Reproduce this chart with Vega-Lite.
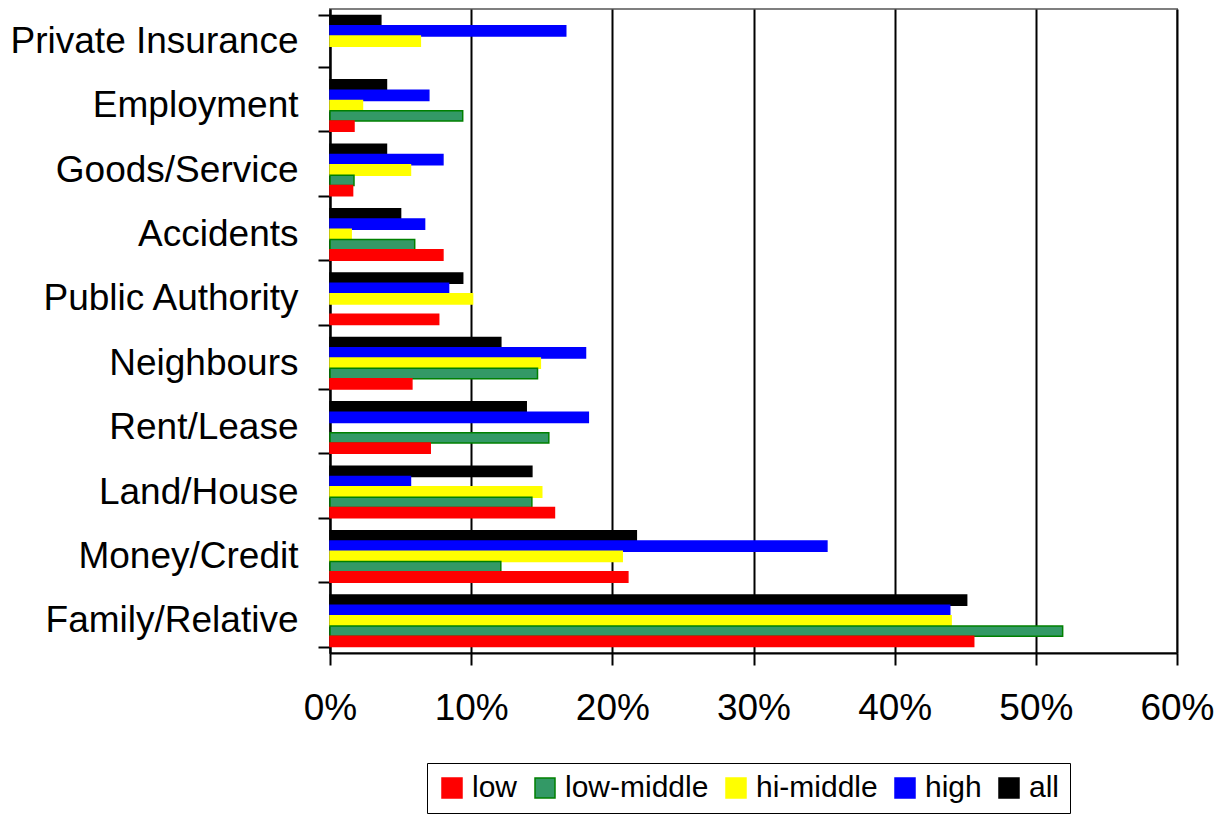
{
  "$schema": "https://vega.github.io/schema/vega-lite/v6.json",
  "width": 847,
  "height": 644,
  "autosize": {"type": "none"},
  "padding": {"left": 330, "top": 9, "right": 51, "bottom": 162},
  "background": "white",
  "config": {
    "font": "Liberation Sans",
    "view": {"stroke": "#7f7f7f", "strokeWidth": 2}
  },
  "data": {
    "values": [
      {"cat": "Private Insurance", "group": "all", "pct": 3.6},
      {"cat": "Private Insurance", "group": "high", "pct": 16.7},
      {"cat": "Private Insurance", "group": "hi-middle", "pct": 6.4},
      {"cat": "Employment", "group": "all", "pct": 4.0},
      {"cat": "Employment", "group": "high", "pct": 7.0},
      {"cat": "Employment", "group": "hi-middle", "pct": 2.3},
      {"cat": "Employment", "group": "low-middle", "pct": 9.4},
      {"cat": "Employment", "group": "low", "pct": 1.7},
      {"cat": "Goods/Service", "group": "all", "pct": 4.0},
      {"cat": "Goods/Service", "group": "high", "pct": 8.0},
      {"cat": "Goods/Service", "group": "hi-middle", "pct": 5.7},
      {"cat": "Goods/Service", "group": "low-middle", "pct": 1.7},
      {"cat": "Goods/Service", "group": "low", "pct": 1.6},
      {"cat": "Accidents", "group": "all", "pct": 5.0},
      {"cat": "Accidents", "group": "high", "pct": 6.7},
      {"cat": "Accidents", "group": "hi-middle", "pct": 1.5},
      {"cat": "Accidents", "group": "low-middle", "pct": 6.0},
      {"cat": "Accidents", "group": "low", "pct": 8.0},
      {"cat": "Public Authority", "group": "all", "pct": 9.4},
      {"cat": "Public Authority", "group": "high", "pct": 8.4},
      {"cat": "Public Authority", "group": "hi-middle", "pct": 10.1},
      {"cat": "Public Authority", "group": "low", "pct": 7.7},
      {"cat": "Neighbours", "group": "all", "pct": 12.1},
      {"cat": "Neighbours", "group": "high", "pct": 18.1},
      {"cat": "Neighbours", "group": "hi-middle", "pct": 14.9},
      {"cat": "Neighbours", "group": "low-middle", "pct": 14.7},
      {"cat": "Neighbours", "group": "low", "pct": 5.8},
      {"cat": "Rent/Lease", "group": "all", "pct": 13.9},
      {"cat": "Rent/Lease", "group": "high", "pct": 18.3},
      {"cat": "Rent/Lease", "group": "low-middle", "pct": 15.5},
      {"cat": "Rent/Lease", "group": "low", "pct": 7.1},
      {"cat": "Land/House", "group": "all", "pct": 14.3},
      {"cat": "Land/House", "group": "high", "pct": 5.7},
      {"cat": "Land/House", "group": "hi-middle", "pct": 15.0},
      {"cat": "Land/House", "group": "low-middle", "pct": 14.3},
      {"cat": "Land/House", "group": "low", "pct": 15.9},
      {"cat": "Money/Credit", "group": "all", "pct": 21.7},
      {"cat": "Money/Credit", "group": "high", "pct": 35.2},
      {"cat": "Money/Credit", "group": "hi-middle", "pct": 20.7},
      {"cat": "Money/Credit", "group": "low-middle", "pct": 12.1},
      {"cat": "Money/Credit", "group": "low", "pct": 21.1},
      {"cat": "Family/Relative", "group": "all", "pct": 45.1},
      {"cat": "Family/Relative", "group": "high", "pct": 43.9},
      {"cat": "Family/Relative", "group": "hi-middle", "pct": 44.0},
      {"cat": "Family/Relative", "group": "low-middle", "pct": 51.9},
      {"cat": "Family/Relative", "group": "low", "pct": 45.6}
    ]
  },
  "mark": {"type": "bar", "strokeWidth": 1.5},
  "encoding": {
    "y": {
      "field": "cat",
      "type": "nominal",
      "sort": ["Private Insurance", "Employment", "Goods/Service", "Accidents", "Public Authority", "Neighbours", "Rent/Lease", "Land/House", "Money/Credit", "Family/Relative"],
      "scale": {"paddingInner": 0.2, "paddingOuter": 0.1},
      "axis": {
        "title": null,
        "labelFontSize": 37,
        "labelColor": "black",
        "labelPadding": 20,
        "labelLimit": 400,
        "tickBand": "extent",
        "tickSize": 12,
        "tickColor": "black",
        "tickWidth": 2,
        "domainColor": "black",
        "domainWidth": 2,
        "grid": false
      }
    },
    "yOffset": {
      "field": "group",
      "type": "nominal",
      "sort": ["all", "high", "hi-middle", "low-middle", "low"],
      "scale": {"paddingInner": 0, "paddingOuter": 0}
    },
    "x": {
      "field": "pct",
      "type": "quantitative",
      "scale": {"domain": [0, 60], "nice": false},
      "axis": {
        "title": null,
        "values": [0, 10, 20, 30, 40, 50, 60],
        "labelExpr": "datum.value + '%'",
        "labelFontSize": 37,
        "labelColor": "black",
        "labelPadding": 25,
        "labelFlush": false,
        "labelOverlap": false,
        "tickSize": 12,
        "tickColor": "black",
        "tickWidth": 2,
        "domainColor": "black",
        "domainWidth": 2,
        "grid": true,
        "gridColor": "black",
        "gridWidth": 2,
        "gridOpacity": 1
      }
    },
    "fill": {
      "field": "group",
      "type": "nominal",
      "scale": {
        "domain": ["low", "low-middle", "hi-middle", "high", "all"],
        "range": ["#ff0000", "#339966", "#ffff00", "#0000ff", "#000000"]
      },
      "legend": {
        "title": null,
        "orient": "none",
        "direction": "horizontal",
        "legendX": 97,
        "legendY": 754,
        "labelFontSize": 30,
        "labelColor": "black",
        "labelOffset": 5,
        "symbolType": "square",
        "symbolSize": 400,
        "symbolStrokeWidth": 1.5,
        "columnPadding": 12,
        "padding": 10,
        "strokeColor": "black",
        "fillColor": "white"
      }
    },
    "stroke": {
      "field": "group",
      "type": "nominal",
      "scale": {
        "domain": ["low", "low-middle", "hi-middle", "high", "all"],
        "range": ["#ff0000", "#008000", "#ffff00", "#0000ff", "#000000"]
      },
      "legend": {
        "title": null,
        "orient": "none",
        "direction": "horizontal",
        "legendX": 97,
        "legendY": 754,
        "labelFontSize": 30,
        "labelColor": "black",
        "labelOffset": 5,
        "symbolType": "square",
        "symbolSize": 400,
        "symbolStrokeWidth": 1.5,
        "columnPadding": 12,
        "padding": 10,
        "strokeColor": "black",
        "fillColor": "white"
      }
    }
  }
}
